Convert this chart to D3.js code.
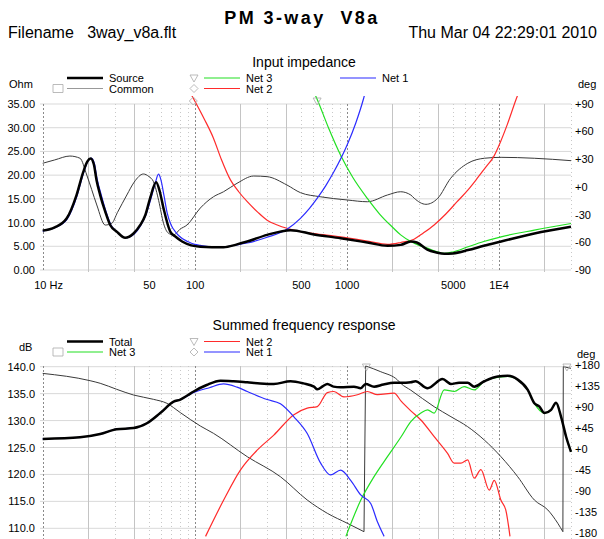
<!DOCTYPE html>
<html><head><meta charset="utf-8">
<script src="https://cdn.jsdelivr.net/npm/d3@7"></script>
<style>
body{margin:0;background:#fff;}
svg{display:block;font-family:"Liberation Sans",Arial,Helvetica,sans-serif;}
</style></head><body>
<svg id="c" width="604" height="539"></svg>
<script>
// ---------- DATA ----------
// Input impedance (Ohm) vs frequency (Hz)
const srcF = [10,12,14.4,16.7,18.5,19.7,20.7,21.7,22.6,23.9,25.8,27.8,30.7,34.9,39.6,43.9,47.4,50.9,55.8,59,62.4,69.1,75,82.7,95,109,130,155,190,222,300,428,610,914,1370,1860,2270,2650,2900,3400,3900,4400,5000,6300,8000,10400,17200,30000];
const srcZ = [8.3,9.0,10.9,15.8,20.7,22.9,23.5,22.3,19.0,15.8,12.3,9.5,8.1,6.8,7.7,9.5,11.6,15.1,18.5,16.5,13.0,8.1,7.0,6.0,5.2,4.9,4.8,4.8,5.4,6.0,7.4,8.4,7.5,6.7,5.8,5.1,5.3,6.0,5.8,4.3,3.7,3.4,3.5,4.2,5.1,6.0,7.7,9.1];
const net1F = [10,12,14.4,16.7,18.5,19.8,20.9,21.9,22.8,24.2,26,28,31,35,40,44,48,51.5,55,57.9,60,63,66,70,75,80,90,100,109,130,155,190,222,300,405,497,570,640,730,825,1010,1150,1290,1340];
const net1Z = [8.2,8.9,10.6,15.3,20.3,22.9,23.6,22.4,19.2,16.0,12.5,9.6,8.0,6.8,7.6,9.3,11.8,15.0,18.3,20.2,19.0,15.5,12.0,9.5,8.0,7.0,6.0,5.4,5.2,4.9,4.9,5.3,5.7,6.9,8.6,10.9,13.0,15.1,17.8,20.7,26.4,31.0,36.0,38.0];
const net2F = [95,115,133,150,172,195,222,260,300,350,405,500,610,914,1370,1860,2270,2780,3200,3770,4500,5340,6300,7230,8200,9300,10300,11400,13060,13600];
const net2Z = [37,32,27.8,23.3,19.0,16.5,14.4,12.2,10.5,9.5,8.8,8.1,7.7,7.0,6.1,5.4,5.8,6.5,7.8,9.5,11.8,14.4,16.9,19.3,21.6,23.9,27.0,30.6,36,37.5];
const net3F = [600,640,760,914,1100,1370,1650,2040,2270,2650,3000,3400,3900,4380,5000,6300,8000,10400,17200,30000];
const net3Z = [38,36,30,24.2,19.5,15.1,11.8,8.8,7.4,6.0,5.2,4.6,3.9,3.5,3.8,4.9,6.0,7.0,8.4,9.8];
// impedance phase (deg) "Common"
const comF = [10,12,15.1,17.6,19.5,21,22.7,25.8,28.5,31,35.8,40,46,50,53.6,58,62.4,67,72.7,80,89,109,133,155,190,245,300,405,497,670,1010,1370,1860,2270,2650,2790,3330,3980,4840,6280,8070,10400,17200,30000];
const comDeg = [25.4,29,33.2,30.8,12.7,-3,-19.7,-41.4,-39.5,-28,-8.9,5,13.8,11,5.5,-15,-39.5,-50,-52.2,-46,-41.4,-23,-10.8,-5.4,3.7,11.6,10.9,1.9,-6.4,-10.8,-14.3,-16.2,-8.9,-5.4,-9,-12.5,-19,-12.5,9.1,25.4,30.8,31.8,30.8,28.2];

// Summed frequency response (dB) vs frequency (Hz)
const totF = [10,17.6,23.9,30.7,39.6,48.5,59.4,72.7,80.5,90,98.6,120,148,180,222,270,332,428,520,610,642,700,747,820,914,1119,1240,1336,1517,1750,2054,2286,2648,2840,3413,4285,4864,5500,6266,6924,8060,9885,11500,13380,15580,17220,18600,20050,22190,23930,25810,27860,30000];
const totDb = [126.6,126.9,127.5,128.4,128.6,129.5,131.4,133.5,133.9,134.7,135.4,136.6,137.4,137.3,137.1,136.9,136.8,137.3,136.9,136.3,135.8,136.4,136.8,136.3,136.2,136.3,136.0,136.8,136.3,136.7,137.0,137.0,137.1,137.3,136.0,137.7,136.8,137.0,137.0,136.3,137.3,138.2,138.3,137.6,135.7,133.2,132.6,131.4,132.0,133.3,130.7,127.0,124.2];
const phF = [10,20.5,23.9,30.7,39.6,53.5,65.7,80.5,109,133,222,367,551,747,1012,1302,1336,1679,2163,2286,2648,3774,4864,6266,8060,10380,13380,17220,21130,24560,26530,26700,30000];
const phDeg = [162,146.4,140.8,127.9,115.7,106.5,97.9,78,49.3,33.6,-16.5,-59.4,-109.3,-137.8,-159.2,-177.2,177.9,165.6,148,140,126,90.6,69.2,47.8,19.3,-16.5,-59.4,-109.3,-130.7,-159.2,-177.2,176.4,172.9];
const n1F = [10,17.6,23.9,30.7,39.6,48.5,59.4,72.7,80.5,98.6,125,155,190,222,300,367,450,551,675,785,914,1064,1239,1442,1596,1766];
const n1Db = [126.6,126.9,127.5,128.4,128.6,129.5,131.4,133.5,133.9,135.2,136.1,136.8,136.2,135.4,133.9,133.1,130.7,127.6,122.1,119.9,120.8,118.9,116.2,114.6,111.2,108.5];
const n2F = [118,155,200,258,332,450,551,642,747,826,961,1178,1371,1596,2054,2286,2648,3083,3774,4620,5107,5660,6266,6924,7658,8690,9376,10380,11190,11900];
const n2Db = [108.5,115.2,120.8,124.5,127.3,131.1,132.3,132.6,135.2,135.4,134.4,134.8,135.4,134.8,135.1,133.6,131.8,130.1,127.0,123.9,122.1,122.1,122.7,119.3,120.9,117.1,118.9,115.2,113.3,108.5];
const n3F = [990,1239,1517,1858,2286,2648,3083,3413,3774,4389,5107,5945,6924,8060,10380,11500,13380,15580,17220,20050,22190,23930,25810,27860,30000];
const n3Db = [108.5,115.2,119.6,123.3,127.0,129.8,131.4,132.0,131.4,135.7,135.4,136.3,135.7,137.3,138.1,138.2,137.6,135.7,133.2,131.4,132.0,133.3,130.7,127.0,124.2];

// tick labels
const freqTicks = [10,50,100,500,1000,5000,10000];
const freqLabels = ["10 Hz","50","100","500","1000","5000","1E4"];
const ohmTicks = [0,5,10,15,20,25,30,35];
const degTicksTop = [90,60,30,0,-30,-60,-90];
const dbTicks = [110,115,120,125,130,135,140];
const degTicksBot = [180,135,90,45,0,-45,-90,-135,-180];

// ---------- CHART ----------
const svg = d3.select("#c");
const C = {green:"#22e022", red:"#ff2b2b", blue:"#2b2bff", black:"#000", gray:"#3a3a3a", mark:"#aaa"};
const x = d3.scaleLog().domain([10,30000]).range([42.7,571]);
const PL = 40, PR = 571;

const yZ = d3.scaleLinear().domain([0,35]).range([270,104]);
const yPT = d3.scaleLinear().domain([-90,90]).range([270,103.5]);
const yDb = d3.scaleLinear().domain([110,140]).range([528.3,366.7]);
const yPB = d3.scaleLinear().domain([-180,180]).range([533,365]);

// header
svg.append("text").attr("x",302).attr("y",24).attr("text-anchor","middle")
  .style("font-size","18px").style("font-weight","bold").style("letter-spacing","2.4px").style("white-space","pre")
  .text("PM 3-way  V8a");
svg.append("text").attr("x",8).attr("y",38).style("font-size","16px").style("white-space","pre")
  .text("Filename   3way_v8a.flt");
svg.append("text").attr("x",597).attr("y",38).attr("text-anchor","end").style("font-size","16px")
  .text("Thu Mar 04 22:29:01 2010");

const gridFreqs = [];
[10,100,1000,10000].forEach(d=>{for(let m=1;m<=9;m++){const f=m*d; if(f<=30000) gridFreqs.push({f,m});}});

function grid(g, yTop, yBot, yScale, ticks){
  ticks.forEach(t=>g.append("line").attr("x1",PL).attr("x2",PR).attr("y1",yScale(t)).attr("y2",yScale(t))
    .attr("stroke","#d9d9d9").attr("stroke-width",1));
  gridFreqs.forEach(({f,m})=>{
    const xx = Math.round(x(f))+0.5;
    const l = g.append("line").attr("x1",xx).attr("x2",xx).attr("y1",yTop).attr("y2",yBot).attr("stroke-width",1);
    if(m===1) l.attr("stroke","#8a8a8a").attr("stroke-dasharray","2,2");
    else if(m===2||m===4) l.attr("stroke","#c4c4c4");
    else l.attr("stroke","#c8c8c8").attr("stroke-dasharray","1,3");
  });
}

function plot(g, fs, vs, y, color, w){
  const pts = fs.map((f,i)=>[x(f), y(vs[i])]);
  const pieces=[[pts[0]]];
  for(let i=1;i<pts.length;i++){
    if(Math.abs(vs[i]-vs[i-1])>180) pieces.push([pts[i]]);
    else pieces[pieces.length-1].push(pts[i]);
  }
  const line = d3.line().curve(d3.curveMonotoneX);
  pieces.forEach(p=>{ if(p.length>1) g.append("path").attr("d",line(p)).attr("fill","none")
    .attr("stroke",color).attr("stroke-width",w).attr("stroke-linejoin","round"); });
  for(let k=1;k<pieces.length;k++){
    const a=pieces[k-1][pieces[k-1].length-1], b=pieces[k][0];
    g.append("path").attr("d",d3.line()([a,b])).attr("stroke",color).attr("stroke-width",w).attr("fill","none");
  }
}

const triDown = "M-4,-3L4,-3L0,4Z", diamond = "M0,-4L4,0L0,4L-4,0Z", square = "M-5,-4L5,-4L5,4L-5,4Z";
function marker(g, px, py, d){
  g.append("path").attr("d",d).attr("transform",`translate(${px},${py})`)
    .attr("fill","none").attr("stroke",C.mark).attr("stroke-width",0.8);
}

function legend(g, rows){
  rows.forEach(r=>{
    if(r.sym) marker(g, r.sx, r.y, r.sym);
    g.append("line").attr("x1",r.x1).attr("x2",r.x1+36).attr("y1",r.y).attr("y2",r.y)
      .attr("stroke",r.color).attr("stroke-width",r.w);
    g.append("text").attr("x",r.x1+42).attr("y",r.y+4).style("font-size","11px").text(r.label);
  });
}

function axes(g, yL, lTicks, lFmt, yR, rTicks){
  g.append("g").attr("transform",`translate(35,0)`)
    .call(d3.axisLeft(yL).tickValues(lTicks).tickFormat(lFmt).tickSize(0).tickPadding(0))
    .call(a=>{a.select(".domain").remove(); a.selectAll("text").style("font-size","11px").attr("font-family",null).attr("fill","#000");});
  g.append("g").attr("transform",`translate(575,0)`)
    .call(d3.axisRight(yR).tickValues(rTicks).tickFormat(d=>(d>=0?"+":"")+d).tickSize(0).tickPadding(0))
    .call(a=>{a.select(".domain").remove(); a.selectAll("text").style("font-size","11px").attr("font-family",null).attr("fill","#000");});
}

// ----- TOP: Input impedance -----
const topG = svg.append("g");
topG.append("text").attr("x",304).attr("y",67).attr("text-anchor","middle").style("font-size","14px").text("Input impedance");
topG.append("text").attr("x",9).attr("y",88).style("font-size","11px").text("Ohm");
topG.append("text").attr("x",578).attr("y",88).style("font-size","11px").text("deg");
legend(topG, [
  {x1:67, y:78, color:C.black, w:2.5, label:"Source"},
  {x1:67, y:88.5, color:"#999", w:1, label:"Common", sym:square, sx:58},
  {x1:204, y:78, color:C.green, w:1.2, label:"Net 3", sym:triDown, sx:194},
  {x1:204, y:88.5, color:C.red, w:1.2, label:"Net 2", sym:diamond, sx:194},
  {x1:340, y:78, color:C.blue, w:1.2, label:"Net 1"}
]);
grid(topG, 104, 272, yZ, ohmTicks);
topG.append("g").attr("transform","translate(0,289)")
  .call(d3.axisBottom(x).tickValues(freqTicks).tickFormat((d,i)=>freqLabels[i]).tickSize(0).tickPadding(0))
  .call(a=>{a.select(".domain").remove();
    a.selectAll("text").style("font-size","11px").attr("font-family",null).attr("fill","#000").attr("dy",0);
    a.selectAll("text").filter(d=>d===10).attr("text-anchor","start").attr("dx",-9);});
axes(topG, yZ, ohmTicks, d3.format(".2f"), yPT, degTicksTop);
svg.append("clipPath").attr("id","clipT").append("rect").attr("x",PL).attr("y",96).attr("width",PR-PL+2).attr("height",178);
const topPlot = topG.append("g").attr("clip-path","url(#clipT)");
plot(topPlot, comF, comDeg, yPT, C.gray, 1);
plot(topPlot, net2F, net2Z, yZ, C.red, 1.2);
plot(topPlot, net3F, net3Z, yZ, C.green, 1.2);
plot(topPlot, net1F, net1Z, yZ, C.blue, 1.2);
plot(topPlot, srcF, srcZ, yZ, C.black, 2.5);
marker(topG, x(98), 101, diamond);
marker(topG, x(640), 101, triDown);

// ----- BOTTOM: Summed frequency response -----
const botG = svg.append("g");
botG.append("text").attr("x",304).attr("y",330).attr("text-anchor","middle").style("font-size","14px").text("Summed frequency response");
botG.append("text").attr("x",19).attr("y",351).style("font-size","11px").text("dB");
botG.append("text").attr("x",577).attr("y",358).style("font-size","11px").text("deg");
legend(botG, [
  {x1:67, y:341.5, color:C.black, w:2.5, label:"Total"},
  {x1:67, y:352, color:C.green, w:1.2, label:"Net 3", sym:square, sx:58},
  {x1:204, y:341.5, color:C.red, w:1.2, label:"Net 2", sym:triDown, sx:194},
  {x1:204, y:352, color:C.blue, w:1.2, label:"Net 1", sym:diamond, sx:194}
]);
grid(botG, 366, 539, yDb, dbTicks);
axes(botG, yDb, dbTicks, d3.format(".1f"), yPB, degTicksBot);
svg.append("clipPath").attr("id","clipB").append("rect").attr("x",PL).attr("y",362).attr("width",PR-PL+2).attr("height",177);
const botPlot = botG.append("g").attr("clip-path","url(#clipB)");
plot(botPlot, phF, phDeg, yPB, C.gray, 1);
plot(botPlot, n2F, n2Db, yDb, C.red, 1.2);
plot(botPlot, n3F, n3Db, yDb, C.green, 1.2);
plot(botPlot, n1F, n1Db, yDb, C.blue, 1.2);
plot(botPlot, totF, totDb, yDb, C.black, 2.5);
marker(botG, x(1350), 367, triDown);
marker(botG, x(28200), 367, triDown);
</script>
</body></html>
